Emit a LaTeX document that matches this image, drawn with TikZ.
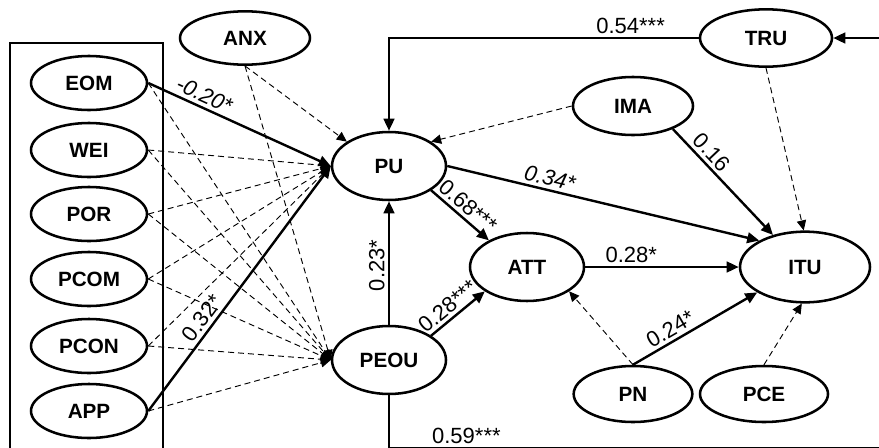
\documentclass[tikz,border=0pt]{standalone}
\usepackage{fontspec}
\setmainfont{Liberation Sans}
\usetikzlibrary{shapes.geometric}
\usetikzlibrary{arrows.meta}

\begin{document}
\begin{tikzpicture}[x=0.75pt,y=-0.75pt,
  lat/.style={ellipse,draw,line width=1.9pt,inner sep=0pt,font=\fontsize{15.5}{18}\selectfont\bfseries},
  latsm/.style={lat,minimum width=87pt,minimum height=40.5pt},
  latbig/.style={lat,minimum width=85.5pt,minimum height=51pt},
  sig/.style={line width=1.8pt,-{Triangle[length=9pt,width=8pt]}},
  nsig/.style={line width=0.7pt,dash pattern=on 4.5pt off 3pt,-{Triangle[length=7.5pt,width=7pt]}},
  coef/.style={font=\fontsize{16.5}{19}\selectfont,above,inner sep=2.5pt},
  scoef/.style={coef,sloped}]
\path[use as bounding box] (0,0) rectangle (879,447);
\clip (0,0) rectangle (879,447);

\draw[line width=1.2pt] (10,43) rectangle (163,470);
\node[latsm] (EOM) at (89,83) {EOM};
\node[latsm] (WEI) at (89,150) {WEI};
\node[latsm] (POR) at (89,214) {POR};
\node[latsm] (PCOM) at (89,279) {PCOM};
\node[latsm] (PCON) at (89,346) {PCON};
\node[latsm] (APP) at (89,411) {APP};

\node[lat,minimum width=97.5pt,minimum height=40pt] (ANX) at (245,38) {ANX};
\node[latbig] (PU) at (389,166) {PU};
\node[latbig] (PEOU) at (389,360) {PEOU};
\node[latbig] (ATT) at (527,267) {ATT};
\node[lat,minimum width=97.5pt,minimum height=53pt] (ITU) at (805,267) {ITU};
\node[lat,minimum width=99pt,minimum height=43pt] (TRU) at (766,38) {TRU};
\node[lat,minimum width=90pt,minimum height=43.5pt] (IMA) at (633,106) {IMA};
\node[lat,minimum width=89pt,minimum height=42pt] (PN) at (633,394) {PN};
\node[lat,minimum width=96pt,minimum height=42pt] (PCE) at (764,394) {PCE};

\draw[sig] (EOM.east) -- node[scoef,pos=0.28]{\itshape -0.20*} (PU.west);
\draw[nsig] (EOM.east) -- (PEOU.west);
\draw[nsig] (WEI.east) -- (PU.west);
\draw[nsig] (WEI.east) -- (PEOU.west);
\draw[nsig] (POR.east) -- (PU.west);
\draw[nsig] (POR.east) -- (PEOU.west);
\draw[nsig] (PCOM.east) -- (PU.west);
\draw[nsig] (PCOM.east) -- (PEOU.west);
\draw[nsig] (PCON.east) -- (PU.west);
\draw[nsig] (PCON.east) -- (PEOU.west);
\draw[sig] (APP.east) -- node[scoef,pos=0.35]{0.32*} (PU.west);
\draw[nsig] (APP.east) -- (PEOU.west);
\draw[nsig] (ANX.south) -- (PU.150);
\draw[nsig] (ANX.south) -- (PEOU.west);

\draw[sig] (PEOU.north) -- node[coef,rotate=90,pos=0.48]{0.23*} (PU.south);
\draw[sig] (PU.-30) -- node[scoef,pos=0.5]{0.68***} (ATT.145);
\draw[sig] (PEOU.30) -- node[scoef,pos=0.45]{0.28***} (ATT.210);
\draw[sig] (PU.east) -- node[scoef,pos=0.32]{\itshape 0.34*} (ITU.150);
\draw[sig] (ATT.east) -- node[coef,pos=0.3]{0.28*} (ITU.west);
\draw[sig] (IMA.-30) -- node[scoef,pos=0.3]{0.16} (ITU.135);
\draw[nsig] (IMA.west) -- (PU.30);
\draw[nsig] (TRU.south) -- (ITU.92);
\draw[sig] (PN.north) -- node[scoef,pos=0.35]{0.24*} (ITU.208);
\draw[nsig] (PN.north) -- (ATT.-30);
\draw[nsig] (PCE.north) -- (ITU.265);

\draw[sig] (TRU.west) -| node[coef,pos=0.11]{0.54***} (PU.north);
\coordinate (bl) at (389,448.5);
\coordinate (br) at (905,448.5);
\draw[sig] (PEOU.south) -- (bl) -- node[coef,pos=0.15]{0.59***} (br) |- (TRU.east);

\end{tikzpicture}
\end{document}
